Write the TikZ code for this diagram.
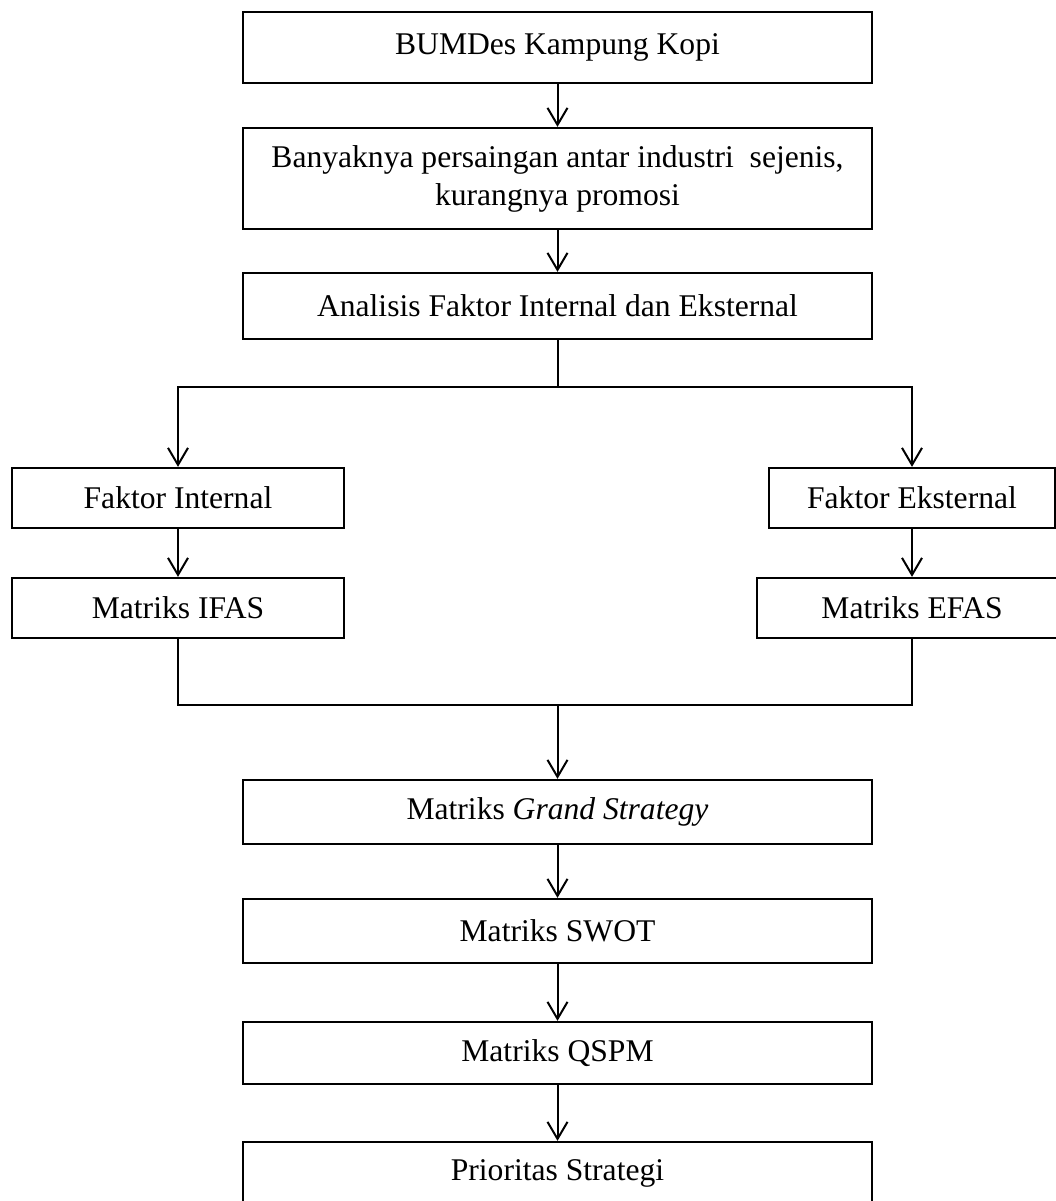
\documentclass[tikz,border=0pt]{standalone}
\usepackage{fontspec}
\setmainfont{Liberation Serif}
\usetikzlibrary{arrows.meta}
\tikzset{
  box/.style={draw, line width=2.3pt, inner sep=0pt, align=center,
    font=\fontsize{31.6}{38}\selectfont},
  conn/.style={line width=2pt},
  arr/.style={conn, -{Straight Barb[length=17pt,width=20pt,line width=2pt]}}
}
\begin{document}
\begin{tikzpicture}[x=1pt,y=-1pt]
\clip (0,0) rectangle (1056,1201);
\fill[white] (0,0) rectangle (1056,1201);
% centre column
\node[box, minimum width=629pt, minimum height=71pt] (A) at (557.5,47.5) {BUMDes Kampung Kopi};
\node[box, minimum width=629pt, minimum height=101pt] (B) at (557.5,178.5) {Banyaknya persaingan antar industri\ \ sejenis,\\kurangnya promosi};
\node[box, minimum width=629pt, minimum height=66pt] (C) at (557.5,306) {Analisis Faktor Internal dan Eksternal};
% side columns
\node[box, minimum width=332pt, minimum height=60pt] (FI) at (178,498) {Faktor Internal};
\node[box, minimum width=332pt, minimum height=60pt] (IF) at (178,608) {Matriks IFAS};
\node[box, minimum width=286pt, minimum height=60pt] (FE) at (912,498) {Faktor Eksternal};
\node[box, minimum width=310pt, minimum height=60pt] (EF) at (912,608) {Matriks EFAS};
% lower column
\node[box, minimum width=629pt, minimum height=64pt] (G) at (557.5,812) {Matriks \textit{Grand Strategy}};
\node[box, minimum width=629pt, minimum height=64pt] (S) at (557.5,931) {Matriks SWOT};
\node[box, minimum width=629pt, minimum height=62pt] (Q) at (557.5,1053) {Matriks QSPM};
\node[box, minimum width=629pt, minimum height=62pt] (P) at (557.5,1173) {Prioritas Strategi};
% bus coordinates
\coordinate (tL) at (178,387);
\coordinate (tR) at (912,387);
\coordinate (tM) at (557.5,387);
\coordinate (bL) at (178,705);
\coordinate (bR) at (912,705);
\coordinate (bM) at (557.5,705);
% connectors
\draw[arr] (A) -- (B);
\draw[arr] (B) -- (C);
\draw[conn] (C.south) -- (tM);
\draw[conn, line cap=rect] (tL) -- (tR);
\draw[arr] (tL) -- (FI);
\draw[arr] (tR) -- (FE);
\draw[arr] (FI) -- (IF);
\draw[arr] (FE) -- (EF);
\draw[conn] (IF.south) -- (bL) -- (bR) -- (EF.south);
\draw[arr] (bM) -- (G);
\draw[arr] (G) -- (S);
\draw[arr] (S) -- (Q);
\draw[arr] (Q) -- (P);
\end{tikzpicture}
\end{document}
